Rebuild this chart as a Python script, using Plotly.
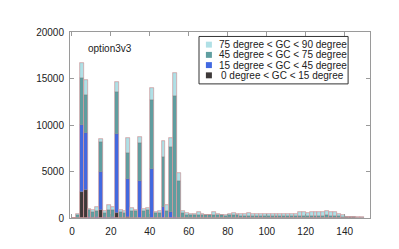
import plotly.graph_objects as go

# Histogram bins (width 2, from 0 to 150)
bin_edges = list(range(0, 152, 2))
bin_centers = [(a + b) / 2 for a, b in zip(bin_edges[:-1], bin_edges[1:])]

labels = [
    "75 degree < GC < 90 degree",
    "45 degree < GC < 75 degree",
    "15 degree < GC < 45 degree",
    "0 degree < GC < 15 degree",
]
colors = ["#b0e0e6", "#5f9ea0", "#4169e1", "#3d3939"]

# per-series counts (stacked from bottom: dark, blue, teal, light)
dark_vals = [0, 0, 2780, 3050, 50, 0, 0, 910, 20, 0, 0, 500, 0, 0, 60, 0, 0, 40, 0, 0,
             30, 0, 0, 20, 0, 0, 0, 0, 0] + [0] * 46
blue_vals = [0, 0, 7220, 6130, 50, 50, 60, 4090, 40, 50, 60, 8500, 40, 30, 4160, 30, 20, 3900, 20, 20,
             5260, 10, 10, 1140, 40, 620, 100, 20, 0] + [0] * 46
teal_vals = [20, 350, 5100, 4100, 760, 570, 710, 3210, 530, 860, 850, 4500, 620, 530, 2820, 700, 680, 4100, 710, 890,
             7380, 520, 580, 5450, 690, 7060, 13030, 3920, 560,
             370, 300, 300, 330, 300, 270, 270, 330, 270, 270, 250, 270, 300, 270, 250, 230, 250, 220, 220, 200,
             220, 200, 200, 200, 220, 200, 200, 220, 220, 250, 250, 240, 260, 250, 250, 260, 280, 250, 240, 200,
             120, 80, 70, 60, 50, 30]
light_vals = [20, 100, 1600, 1610, 160, 260, 430, 260, 210, 460, 240, 1130, 250, 170, 1540, 360, 210, 640, 250, 180,
              1260, 90, 140, 1680, 710, 900, 2460, 890, 240,
              180, 180, 150, 290, 180, 100, 100, 290, 180, 100, 120, 180, 200, 210, 170, 220, 300, 180, 260, 220,
              260, 250, 200, 250, 260, 220, 250, 260, 260, 410, 370, 310, 400, 410, 410, 420, 520, 410, 420, 280,
              150, 80, 90, 90, 70, 50]

totals = [a + b + c + d for a, b, c, d in zip(dark_vals, blue_vals, teal_vals, light_vals)]

fig = go.Figure()
bases = [0] * len(bin_centers)
for vals, name, col in [(dark_vals, labels[3], colors[3]),
                        (blue_vals, labels[2], colors[2]),
                        (teal_vals, labels[1], colors[1]),
                        (light_vals, labels[0], colors[0])]:
    fig.add_trace(go.Bar(x=bin_centers, y=vals, base=list(bases), width=2, name=name,
                         marker=dict(color=col, line=dict(color="rgba(110,110,110,0.5)", width=0.6)),
                         showlegend=False))
    bases = [b + v for b, v in zip(bases, vals)]

# total outline (pink edge)
fig.add_trace(go.Bar(x=bin_centers, y=totals, base=0, width=2,
                     marker=dict(color="rgba(0,0,0,0)", line=dict(color="rgba(235,160,165,0.5)", width=0.9)),
                     showlegend=False))

axis_common = dict(showline=True, linecolor="#9a9a9a", linewidth=1, mirror="ticks",
                   ticks="inside", ticklen=4, tickcolor="#9a9a9a", showgrid=False, zeroline=False,
                   tickfont=dict(family="Liberation Sans", size=10, color="#222"))
fig.update_layout(
    width=399, height=249,
    margin=dict(l=70, r=29, t=32, b=31),
    paper_bgcolor="white", plot_bgcolor="white",
    barmode="overlay", bargap=0,
    xaxis=dict(range=[-1, 153], tickvals=[0, 20, 40, 60, 80, 100, 120, 140], ticklabelstandoff=4, **axis_common),
    yaxis=dict(range=[0, 20000], tickvals=[0, 5000, 10000, 15000, 20000], tickformat="d",
               ticklabelstandoff=3, **axis_common),
    font=dict(family="Liberation Sans", size=10, color="#222"),
)

fig.add_annotation(text="option3v3", xref="paper", yref="paper", x=0.053, y=0.913,
                   xanchor="left", yanchor="middle", showarrow=False,
                   font=dict(family="Liberation Sans", size=10, color="#222"))

# legend box
fig.add_shape(type="rect", xref="paper", yref="paper", x0=0.43, x1=0.927, y0=0.721, y1=0.976,
              line=dict(color="#333", width=1), fillcolor="white", layer="above")
ys = [0.932, 0.877, 0.822, 0.767]
xs_text = [0.489, 0.489, 0.489, 0.495]
for lab, col, yv, xt in zip(labels, colors, ys, xs_text):
    fig.add_shape(type="rect", xref="paper", yref="paper", x0=0.453, x1=0.473,
                  y0=yv - 0.016, y1=yv + 0.016, line=dict(width=0), fillcolor=col, layer="above")
    fig.add_annotation(text=lab, xref="paper", yref="paper", x=xt, y=yv, xanchor="left", yanchor="middle",
                       showarrow=False, font=dict(family="Liberation Sans", size=10, color="#222"))

fig.write_html("out.html", config={"displayModeBar": False},
               post_script="document.body.style.margin='0';")
